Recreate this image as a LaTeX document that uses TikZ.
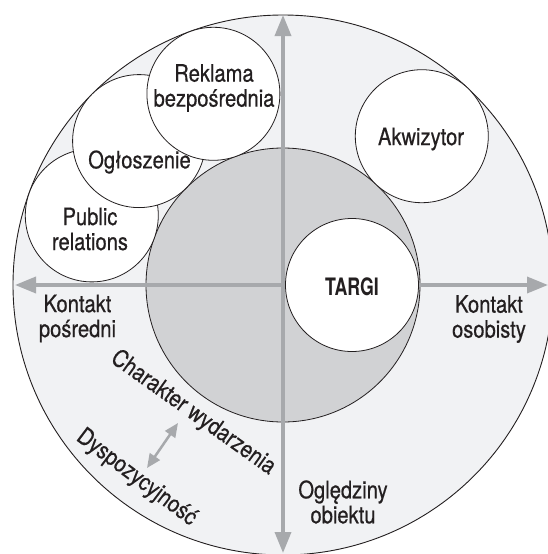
\documentclass[tikz,border=0pt]{standalone}
\usepackage{fontspec}
\setmainfont[FakeStretch=0.84,FakeBold=0.5]{TeX Gyre Heros}
\newfontfamily\boldcn[FakeStretch=0.74]{TeX Gyre Heros}
\usetikzlibrary{arrows.meta,calc}
\definecolor{ringfill}{HTML}{F1F2F4}
\definecolor{corefill}{HTML}{D1D2D4}
\definecolor{axisgray}{HTML}{A7A9AC}
\definecolor{ink}{HTML}{231F20}
\begin{document}
\begin{tikzpicture}[x=1pt,y=-1pt,
  bubble/.style={circle,draw=ink,line width=0.8pt,fill=white,minimum size=133pt,inner sep=0pt},
  lbl/.style={text=ink,align=center,font=\fontsize{24}{25}\selectfont,inner sep=0pt},
  axis/.style={draw=axisgray,line width=3.5pt,{Triangle[length=21pt,width=16pt]}-{Triangle[length=21pt,width=16pt]}},
  smallaxis/.style={draw=axisgray,line width=2.5pt,{Triangle[length=14pt,width=12pt]}-{Triangle[length=14pt,width=12pt]}}]
\useasboundingbox (0,0) rectangle (548,554);
\clip (0,0) rectangle (548,554);
\coordinate (C) at (283,285);
\node[circle,draw=ink,line width=0.9pt,fill=ringfill,minimum size=540pt,inner sep=0pt] (outer) at (C) {};
\node[circle,draw=ink,line width=0.8pt,fill=corefill,minimum size=274pt,inner sep=0pt] (core) at (C) {};
% axes
\coordinate (axL) at (15,285);
\coordinate (axR) at (548,285);
\coordinate (axT) at (283,15);
\coordinate (axB) at (283,553);
\draw[axis] (axL) -- (axR);
\draw[axis] (axT) -- (axB);
% bubbles
\node[bubble] (pr) at (91.8,215.4) {};
\node[bubble] (og) at (139.1,141.1) {};
\node[bubble] (rek) at (213.4,93.8) {};
\node[bubble] (akw) at (421.8,136.2) {};
\node[bubble] (targi) at (352,285) {};
% labels
\node[lbl] (tpr) at (90,229) {Public\\relations};
\node[lbl] (tog) at (139.5,162) {Ogłoszenie};
\node[lbl] (trek) at (214,88) {Reklama\\bezpośrednia};
\node[lbl] (takw) at (421,139) {Akwizytor};
\node[lbl,font=\fontsize{24}{25}\boldcn\bfseries] (ttargi) at (352,286.5) {TARGI};
\node[lbl] (tkp) at (77.5,318.5) {Kontakt\\pośredni};
\node[lbl] (tko) at (489,319) {Kontakt\\osobisty};
\node[lbl] (tob) at (343,502) {Oględziny\\obiektu};
\node[lbl,rotate=-35.5] (tch) at (193,413) {Charakter wydarzenia};
\node[lbl,rotate=-37] (tdy) at (136.5,478) {Dyspozycyjność};
% small double arrow
\coordinate (dA) at (178,423);
\coordinate (dB) at (147,468);
\draw[smallaxis] (dA) -- (dB);
\end{tikzpicture}
\end{document}
